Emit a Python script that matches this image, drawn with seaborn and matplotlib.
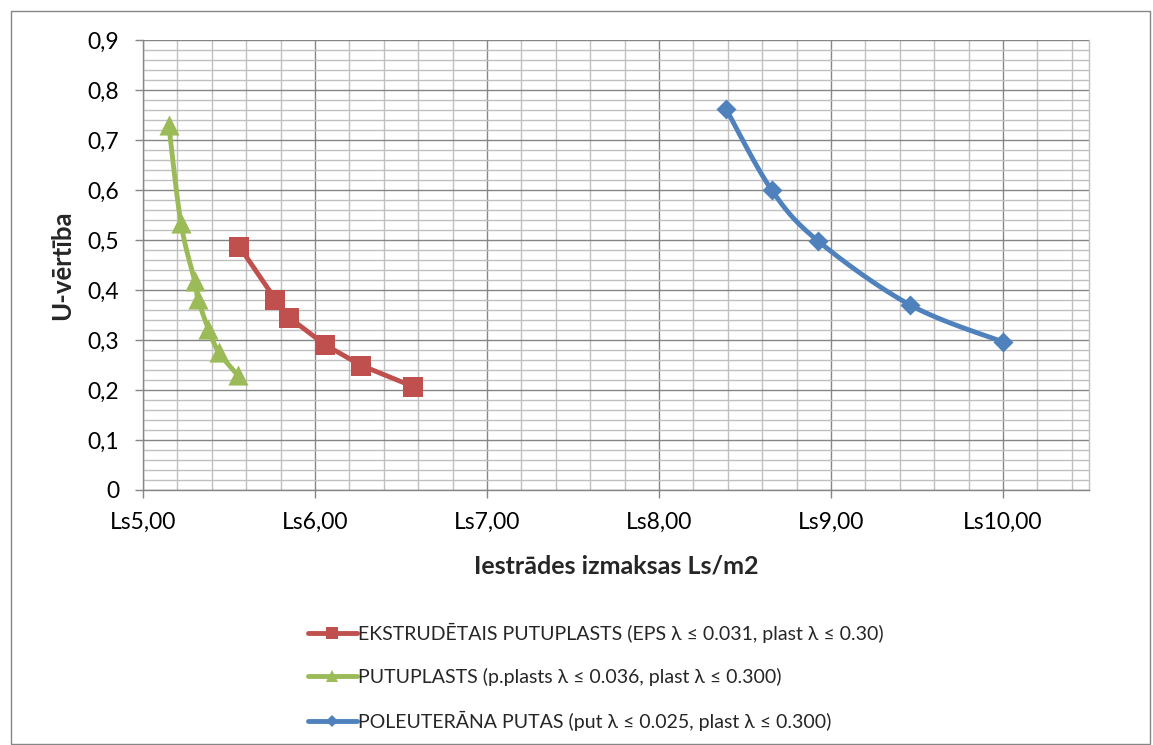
import matplotlib
matplotlib.use('Agg')
import matplotlib.pyplot as plt
from matplotlib.lines import Line2D
from matplotlib.patches import Rectangle
from matplotlib.ticker import FuncFormatter, MultipleLocator
import seaborn as sns
import pandas as pd
import numpy as np

# ── Data ──────────────────────────────────────────────────
eps_cost = [5.56, 5.77, 5.85, 6.06, 6.27, 6.57]
eps_u    = [0.487, 0.381, 0.345, 0.290, 0.249, 0.207]

pp_cost  = [5.15, 5.22, 5.30, 5.32, 5.38, 5.44, 5.55]
pp_u     = [0.730, 0.535, 0.418, 0.382, 0.322, 0.276, 0.230]

pur_cost = [8.39, 8.655, 8.925, 9.46, 10.0]
pur_u    = [0.762, 0.600, 0.498, 0.370, 0.296]

labels = ['EKSTRUDĒTAIS PUTUPLASTS (EPS λ ≤ 0.031, plast λ ≤ 0.30)',
          'PUTUPLASTS (p.plasts λ ≤ 0.036, plast λ ≤ 0.300)',
          'POLEUTERĀNA PUTAS (put λ ≤ 0.025, plast λ ≤ 0.300)']
colors  = ['#C0504D', '#9BBB59', '#4F81BD']
markers = ['s', '^', 'D']
msizes  = [14.5, 14.5, 10.2]
leg_ms  = [9, 8.5, 6.5]
smooth  = [False, True, True]


def catmull_rom(x, y, n=20):
    # smooth curve through the points, like Excel's "smoothed line"
    p = np.column_stack([x, y]).astype(float)
    p = np.vstack([p[0], p, p[-1]])
    out = []
    for i in range(1, len(p) - 2):
        p0, p1, p2, p3 = p[i - 1], p[i], p[i + 1], p[i + 2]
        t = np.linspace(0, 1, n, endpoint=False)[:, None]
        seg = 0.5 * ((2 * p1) + (-p0 + p2) * t
                     + (2 * p0 - 5 * p1 + 4 * p2 - p3) * t ** 2
                     + (-p0 + 3 * p1 - 3 * p2 + p3) * t ** 3)
        out.append(seg)
    out.append(p[-2][None, :])
    out = np.vstack(out)
    return out[:, 0], out[:, 1]


sns.set_theme(style='white')
plt.rcParams['font.family'] = ['Lato', 'DejaVu Sans']

fig = plt.figure(figsize=(11.53, 7.45), dpi=100)
ax = fig.add_axes([143 / 1153, 1 - 490 / 745, (1089 - 143) / 1153, 450 / 745])

series = [(eps_cost, eps_u), (pp_cost, pp_u), (pur_cost, pur_u)]
handles = []
for (xs, ys), lab, c, m, ms, lms, sm in zip(series, labels, colors, markers,
                                             msizes, leg_ms, smooth):
    if sm:
        lx, ly = catmull_rom(xs, ys)
    else:
        lx, ly = np.array(xs), np.array(ys)
    line_df = pd.DataFrame({'x': lx, 'y': ly})
    sns.lineplot(data=line_df, x='x', y='y', sort=False, estimator=None,
                 color=c, linewidth=3.5, ax=ax, zorder=3)
    pt_df = pd.DataFrame({'x': xs, 'y': ys})
    sns.scatterplot(data=pt_df, x='x', y='y', marker=m, s=ms ** 2,
                    color=c, edgecolor=c, linewidth=0, ax=ax, zorder=4)
    handles.append(Line2D([], [], color=c, linewidth=3.5, marker=m,
                          markersize=lms, markeredgewidth=0))

ax.set_xlim(5.0, 10.5)
ax.set_ylim(0, 0.9)
ax.xaxis.set_major_locator(MultipleLocator(1.0))
ax.xaxis.set_minor_locator(MultipleLocator(0.2))
ax.yaxis.set_major_locator(MultipleLocator(0.1))
ax.yaxis.set_minor_locator(MultipleLocator(0.02))
ax.xaxis.set_major_formatter(FuncFormatter(lambda v, _: f'Ls{v:.2f}'.replace('.', ',')))
ax.yaxis.set_major_formatter(
    FuncFormatter(lambda v, _: '0' if abs(v) < 1e-9 else f'{v:.1f}'.replace('.', ',')))

ax.grid(which='major', color='#868686', linewidth=1.0, zorder=0)
ax.grid(which='minor', color='#c0c0c0', linewidth=1.0, zorder=0)
ax.set_axisbelow(True)
ax.spines['top'].set_visible(False)
ax.spines['right'].set_color('#c0c0c0')
ax.spines['left'].set_color('#868686')
ax.spines['bottom'].set_color('#868686')
for s in ax.spines.values():
    s.set_linewidth(1.0)

ax.tick_params(axis='both', which='major', length=6, width=1, color='#868686',
               labelsize=16.5, colors='black', direction='out', left=True, bottom=True)
ax.tick_params(axis='x', which='major', pad=10)
ax.tick_params(axis='y', which='major', pad=11)
ax.tick_params(which='minor', length=0)

ax.set_xlabel('Iestrādes izmaksas Ls/m2', fontsize=18, fontweight='bold', labelpad=15)
ax.set_ylabel('U-vērtība', fontsize=18.5, fontweight='bold', labelpad=10)

fig.legend(handles, labels, loc='upper left', bbox_to_anchor=(308 / 1153, 1 - 623 / 745),
           frameon=False, fontsize=14, handlelength=2.5, handletextpad=0.05,
           labelspacing=1.28, borderpad=0, borderaxespad=0)

# outer chart border
fig.patches.append(Rectangle((11 / 1153, 1 / 745), 1139 / 1153, 733 / 745,
                             transform=fig.transFigure, fill=False,
                             edgecolor='#868686', linewidth=1.0))

fig.savefig('out.png', dpi=100)
